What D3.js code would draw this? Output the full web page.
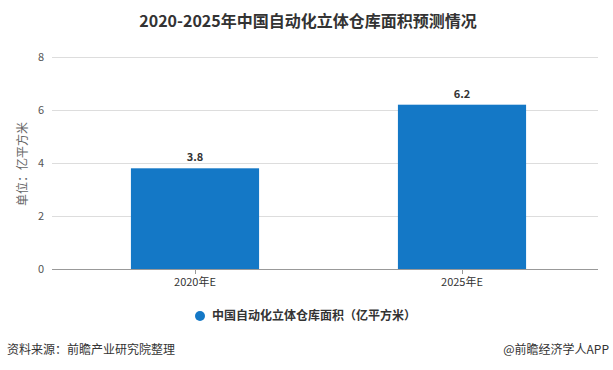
<!DOCTYPE html>
<html><head><meta charset="utf-8">
<script src="https://cdn.jsdelivr.net/npm/d3@7"></script>
<style>body{margin:0;background:#fff;}svg{display:block;font-family:"Microsoft YaHei","Noto Sans CJK SC",sans-serif;}</style>
</head><body><svg id="c" width="613" height="370"></svg>
<script>
const categories = ["2020年E", "2025年E"];
const values = [3.8, 6.2];
const yTicks = [0, 2, 4, 6, 8];
const seriesName = "中国自动化立体仓库面积（亿平方米）";

const svg = d3.select("#c");
const x = d3.scaleBand().domain(categories).range([61.5, 595.5]).paddingInner(0.52).paddingOuter(0.26);
const y = d3.scaleLinear().domain([0, 8]).range([269, 57]);

svg.append("text").attr("x", 308).attr("y", 27).attr("text-anchor", "middle")
  .attr("font-size", 16).attr("font-weight", "bold").attr("fill", "#333").text("2020-2025年中国自动化立体仓库面积预测情况");

// grid
const g = svg.append("g");
yTicks.forEach(t => {
  g.append("line").attr("x1", 52).attr("x2", 598).attr("y1", y(t)).attr("y2", y(t))
    .attr("stroke", t === 0 ? "#999" : "#ddd").attr("stroke-width", 1).attr("shape-rendering", "crispEdges");
  g.append("text").attr("x", 44).attr("y", y(t) + 4).attr("text-anchor", "end")
    .attr("font-size", 11).attr("fill", "#555").text(t);
});

svg.append("text").attr("transform", "translate(27,164) rotate(-90)").attr("text-anchor", "middle")
  .attr("font-size", 12).attr("fill", "#666").text("单位：亿平方米");

// bars
svg.selectAll("rect.bar").data(values).join("rect").attr("class", "bar")
  .attr("x", (d, i) => x(categories[i])).attr("width", x.bandwidth())
  .attr("y", d => y(d)).attr("height", d => y(0) - y(d)).attr("fill", "#1478c6");

svg.selectAll("text.val").data(values).join("text").attr("class", "val")
  .attr("x", (d, i) => x(categories[i]) + x.bandwidth() / 2).attr("y", d => y(d) - 7)
  .attr("text-anchor", "middle").attr("font-size", 11).attr("font-weight", "bold").attr("fill", "#333").text(d => d.toFixed(1));

// x ticks
categories.forEach(c => {
  const cx = x(c) + x.bandwidth() / 2;
  svg.append("line").attr("x1", cx).attr("x2", cx).attr("y1", 269).attr("y2", 274).attr("stroke", "#999").attr("shape-rendering", "crispEdges");
  svg.append("text").attr("x", cx).attr("y", 286).attr("text-anchor", "middle").attr("font-size", 11).attr("fill", "#333").text(c);
});

// legend
svg.append("circle").attr("cx", 200).attr("cy", 316).attr("r", 5).attr("fill", "#1478c6");
svg.append("text").attr("x", 212).attr("y", 320).attr("font-size", 12).attr("font-weight", "bold").attr("fill", "#333").text(seriesName);

// footer
svg.append("text").attr("x", 7).attr("y", 354).attr("font-size", 12).attr("fill", "#333").text("资料来源：前瞻产业研究院整理");
svg.append("text").attr("x", 609).attr("y", 354).attr("text-anchor", "end").attr("font-size", 12).attr("fill", "#333").text("@前瞻经济学人APP");
</script></body></html>
